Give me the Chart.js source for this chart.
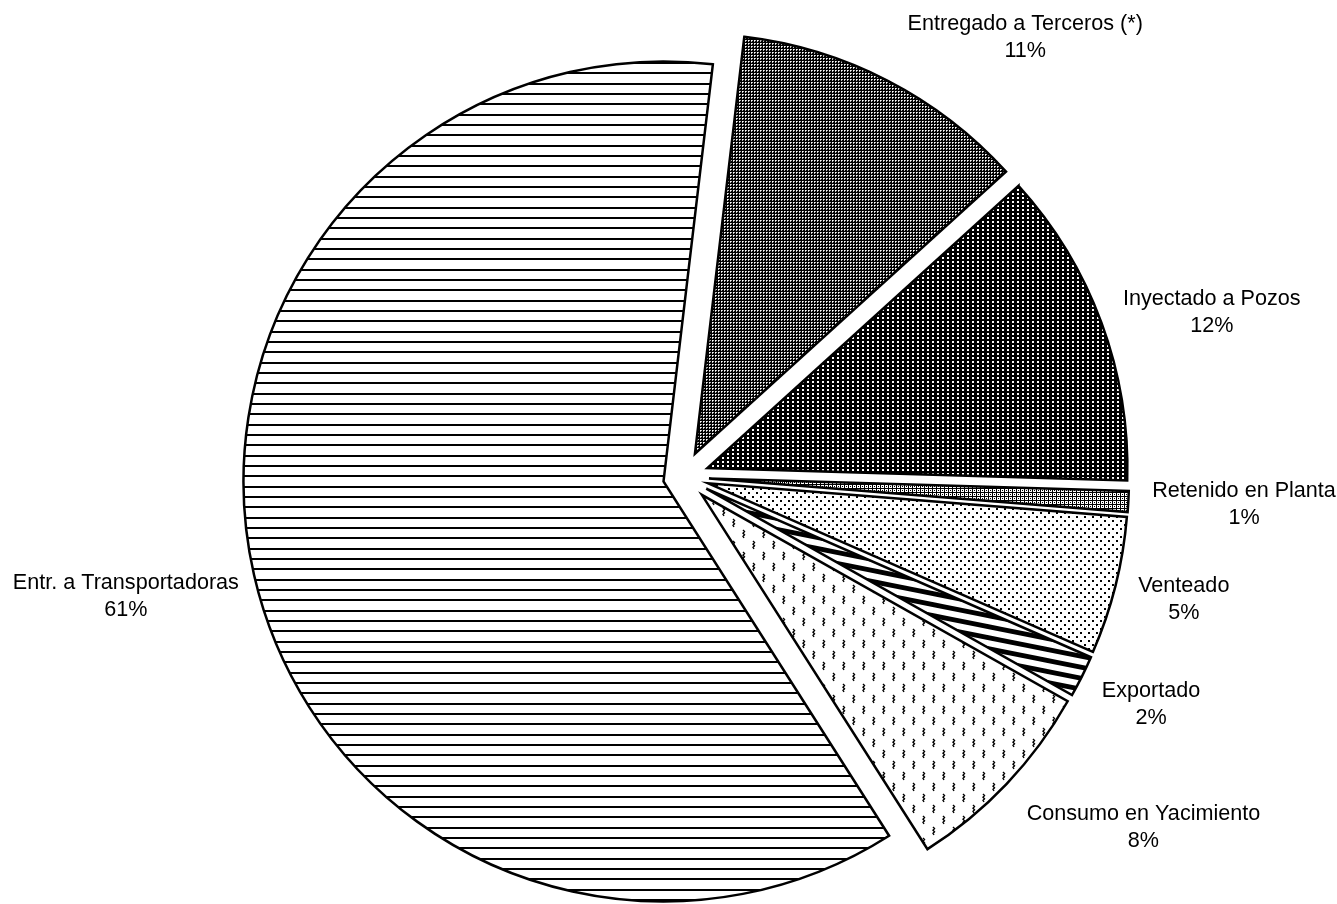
<!DOCTYPE html>
<html>
<head>
<meta charset="utf-8">
<script src="https://cdn.jsdelivr.net/npm/chart.js@4"></script>
<style>
  html, body { margin: 0; padding: 0; background: #fff; }
  #wrap { width: 1337px; height: 904px; }
</style>
</head>
<body>
<div id="wrap"><canvas id="pie" width="1337" height="904"></canvas></div>
<script>
// ─── DATA ──────────────────────────────────────────────────────────
const categories = [
    'Entregado a Terceros (*)',
    'Inyectado a Pozos',
    'Retenido en Planta',
    'Venteado',
    'Exportado',
    'Consumo en Yacimiento',
    'Entr. a Transportadoras'
];
const shares = [11.4, 12.2, 0.8, 5.3, 1.6, 7.8, 60.9];

// ─── LAYOUT (not data) ─────────────────────────────────────────────
const explode = [26, 26, 26, 26, 26, 26, 20];          // px each slice is pulled out
const labelNudge = [[84, -26], [27, -4], [24, 0], [24, 7], [25, 17], [52, 28], [-18, 15]];

// ─── FILL PATTERNS ────────────────────────────────────────────────
function makePattern(w, h, paint) {
    const c = document.createElement('canvas');
    c.width = w; c.height = h;
    const g = c.getContext('2d');
    g.fillStyle = '#fff';
    g.fillRect(0, 0, w, h);
    g.fillStyle = '#000';
    g.strokeStyle = '#000';
    paint(g, w, h);
    return g.createPattern(c, 'repeat');
}

const fineMesh = makePattern(3, 3, g => {
    g.fillRect(0, 0, 3, 3);
    g.fillStyle = '#fff';
    g.fillRect(1, 1, 1, 1);
    g.fillStyle = '#bbb';
    g.fillRect(2, 1, 1, 1);
    g.fillRect(1, 2, 1, 1);
});
const darkDots = makePattern(5, 4, g => {
    g.fillRect(0, 0, 5, 4);
    g.fillStyle = '#fff';
    g.fillRect(2, 1, 2, 2);
});
const rings = makePattern(4, 4, g => {
    g.fillRect(0, 0, 4, 4);
    g.fillStyle = '#fff';
    g.fillRect(1, 1, 3, 3);
    g.fillStyle = '#000';
    g.fillRect(2, 2, 1, 1);
});
const sparseDots = makePattern(8, 8, g => {
    g.fillRect(0, 0, 2, 2);
    g.fillRect(4, 4, 2, 2);
});
const stripes = makePattern(55, 11, g => {
    g.lineWidth = 4.8;
    for (let k = -2; k <= 2; k++) {
        g.beginPath();
        g.moveTo(-55, k * 11 - 11);
        g.lineTo(110, k * 11 + 22);
        g.stroke();
    }
});
const squiggles = makePattern(20, 22, g => {
    g.lineWidth = 1.4;
    [[3, 2], [13, 13]].forEach(([x, y]) => {
        g.beginPath();
        g.moveTo(x, y);
        g.lineTo(x + 1.5, y + 1.6);
        g.lineTo(x, y + 3.2);
        g.lineTo(x + 1.5, y + 4.8);
        g.lineTo(x, y + 6.4);
        g.lineTo(x + 1, y + 8);
        g.stroke();
    });
});
const hLines = makePattern(4, 31, g => {
    g.fillRect(0, 0, 4, 2);
    g.fillRect(0, 10, 4, 2);
    g.fillRect(0, 21, 4, 2);
});

const fills = [fineMesh, darkDots, rings, sparseDots, stripes, squiggles, hLines];

// ─── PLUGINS ──────────────────────────────────────────────────────
// pull every slice out along its own bisector, keeping the radius
const explodeSlices = {
    id: 'explodeSlices',
    afterDatasetsUpdate(chart) {
        chart.getDatasetMeta(0).data.forEach((arc, i) => {
            const mid = (arc.startAngle + arc.endAngle) / 2;
            arc.x += Math.cos(mid) * explode[i];
            arc.y += Math.sin(mid) * explode[i];
        });
    }
};

const sliceLabels = {
    id: 'sliceLabels',
    afterDraw(chart) {
        const ctx = chart.ctx;
        const arcs = chart.getDatasetMeta(0).data;
        ctx.save();
        ctx.font = '21.6px "Liberation Sans", Arial, sans-serif';
        ctx.fillStyle = '#000';
        ctx.textAlign = 'center';
        ctx.textBaseline = 'alphabetic';
        arcs.forEach((arc, i) => {
            const mid = (arc.startAngle + arc.endAngle) / 2;
            const dx = Math.cos(mid), dy = Math.sin(mid);
            const lines = [categories[i], Math.round(shares[i]) + '%'];
            const w = Math.max(...lines.map(t => ctx.measureText(t).width));
            const h = 42;
            const cx = arc.x + dx * arc.outerRadius + dx * w / 2 + labelNudge[i][0];
            const cy = arc.y + dy * arc.outerRadius + dy * h / 2 + labelNudge[i][1];
            ctx.fillText(lines[0], cx, cy - 6);
            ctx.fillText(lines[1], cx, cy + 21);
        });
        ctx.restore();
    }
};

// ─── CHART ────────────────────────────────────────────────────────
new Chart(document.getElementById('pie'), {
    type: 'pie',
    data: {
        labels: categories,
        datasets: [{
            data: shares,
            backgroundColor: fills,
            borderColor: '#000',
            borderWidth: 2.5,
            borderJoinStyle: 'miter',
            clip: false
        }]
    },
    options: {
        responsive: false,
        animation: false,
        events: [],
        rotation: 6.75,
        radius: 420,
        layout: { padding: { left: 29, right: 0, top: 50, bottom: 0 } },
        plugins: { legend: { display: false }, tooltip: { enabled: false } }
    },
    plugins: [explodeSlices, sliceLabels]
});
</script>
</body>
</html>
